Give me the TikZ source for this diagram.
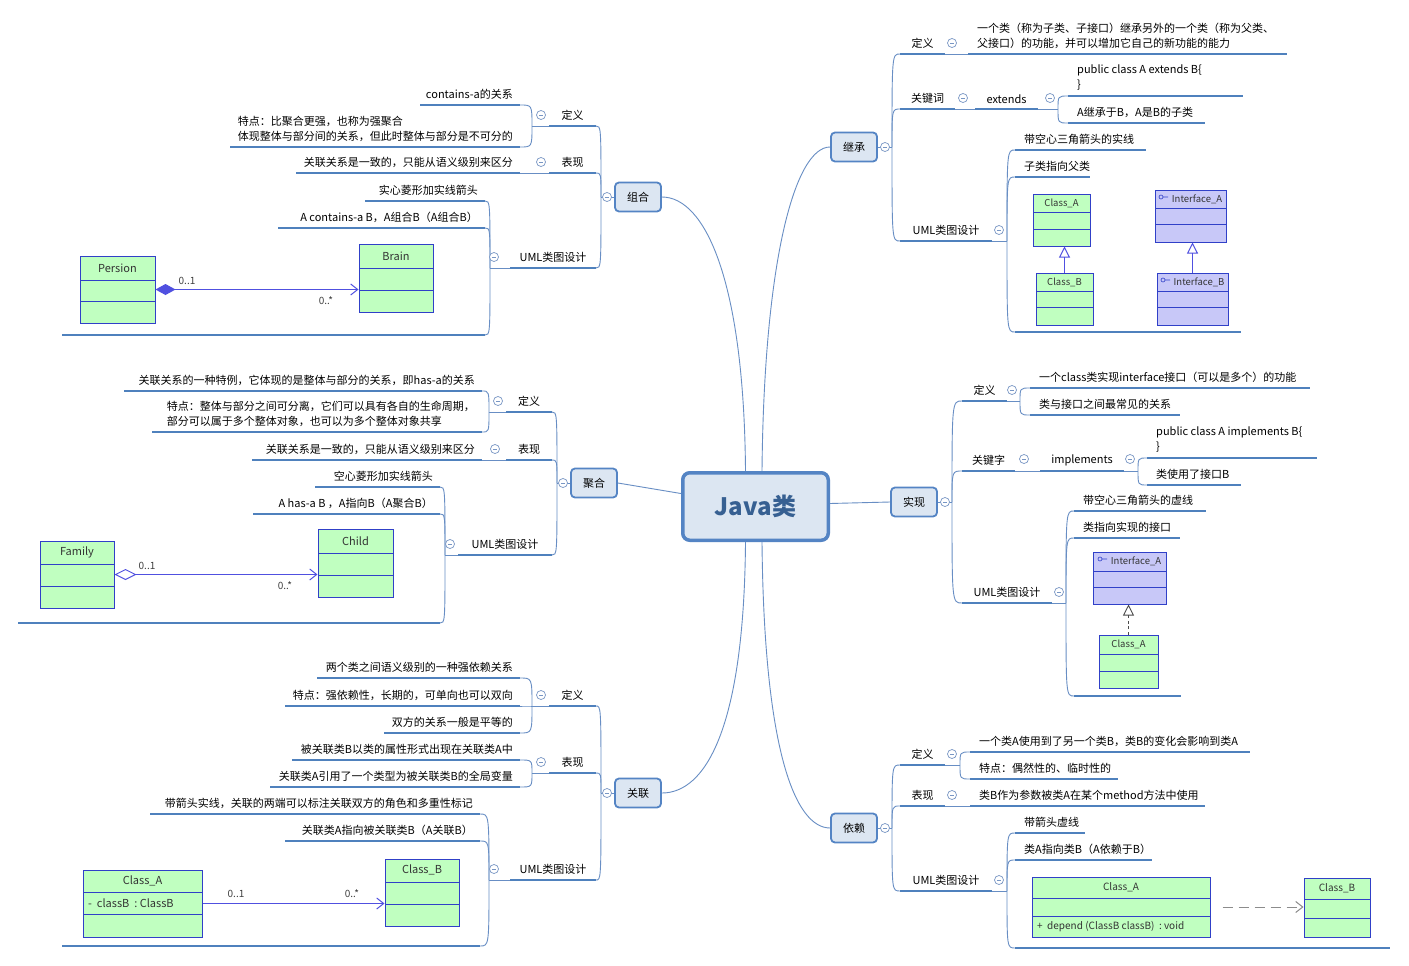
\documentclass[tikz,border=0pt]{standalone}
\usepackage{fontspec}
\setmainfont{Noto Sans CJK SC}
\usetikzlibrary{arrows.meta,fit}

\definecolor{ulcol}{RGB}{79,129,189}
\definecolor{concol}{RGB}{104,142,196}
\definecolor{boxfill}{RGB}{220,230,242}
\definecolor{boxdraw}{RGB}{84,132,196}
\definecolor{javatext}{RGB}{55,96,146}
\definecolor{foldcol}{RGB}{120,150,196}
\definecolor{umlgreen}{RGB}{192,255,192}
\definecolor{umlpurple}{RGB}{200,200,248}
\definecolor{umlline}{RGB}{48,64,200}
\definecolor{arrowcol}{RGB}{80,80,224}

% topic text above an underline: right side, left side, centred
\newcommand\topicR[5]{%
  \coordinate (#1-l) at (#2,#4);
  \coordinate (#1-r) at (#3,#4);
  \draw[uline] (#1-l) -- (#1-r);
  \node[tptext, anchor=south west] (#1) at (#2+8,#4-4) {#5};}
\newcommand\topicL[5]{%
  \coordinate (#1-l) at (#2,#4);
  \coordinate (#1-r) at (#3,#4);
  \draw[uline] (#1-l) -- (#1-r);
  \node[tptext, anchor=south east] (#1) at (#3-6,#4-4) {#5};}
\newcommand\topicC[5]{%
  \coordinate (#1-l) at (#2,#4);
  \coordinate (#1-r) at (#3,#4);
  \draw[uline] (#1-l) -- (#1-r);
  \node[tptext, anchor=south] (#1) at ({(#2+#3)/2},#4-4) {#5};}
\newcommand\imgline[4]{%
  \coordinate (#1-l) at (#2,#4);
  \coordinate (#1-r) at (#3,#4);
  \draw[uline] (#1-l) -- (#1-r);}
% curved branch from a hub to a child
\newcommand\lnk[2]{\draw[conn] (#1) .. controls (#1 |- #2) .. (#2);}
% uml class box with two compartment rules
\newcommand\umlbox[8]{%
  \node[#2, fit={(#3,#4) (#5,#6)}] (#1) {};
  \draw[umlrule] (#3,#7) -- (#5,#7) (#3,#8) -- (#5,#8);}

\tikzset{
  uline/.style={draw=ulcol, line width=2.6pt},
  conn/.style={draw=concol, line width=0.9pt},
  tptext/.style={inner sep=1pt, align=left, font=\fontsize{11}{15}\selectfont},
  javabox/.style={draw=boxdraw, fill=boxfill, line width=3.5pt, rounded corners=7pt,
    minimum width=145.5pt, minimum height=67.5pt, text=javatext,
    font=\fontsize{24}{28}\selectfont\bfseries},
  mainbox/.style={draw=boxdraw, fill=boxfill, line width=1.8pt, rounded corners=4pt,
    minimum width=46pt, minimum height=29pt, font=\fontsize{11}{13}\selectfont},
  foldmark/.style={circle, draw=foldcol, fill=white, line width=0.7pt, minimum size=9pt,
    inner sep=0pt, path picture={\draw[foldcol, line width=0.7pt]
      ([xshift=-2.2pt]path picture bounding box.center) -- ([xshift=2.2pt]path picture bounding box.center);}},
  umlg/.style={draw=umlline, fill=umlgreen, line width=1pt, inner sep=0pt},
  umlp/.style={draw=umlline, fill=umlpurple, line width=1pt, inner sep=0pt},
  umlrule/.style={draw=umlline, line width=0.9pt},
  umltxt/.style={inner sep=0pt, font=\fontsize{9.5}{11}\selectfont, text=black!80},
  umlbig/.style={umltxt, font=\fontsize{11}{12}\selectfont},
  multtxt/.style={inner sep=0pt, font=\fontsize{10}{11}\selectfont, text=black!75},
  umlarrow/.style={draw=arrowcol, line width=1pt},
}

\begin{document}
\begin{tikzpicture}[x=1pt,y=-1pt]
\path[use as bounding box, fill=white] (0,0) rectangle (1409,966);

% central topic and main branches
\node[javabox] (java) at (755.5,506.5) {Java类};
\node[mainbox] (jc) at (854,147) {继承};
\node[mainbox] (zh) at (638,197) {组合};
\node[mainbox] (jh) at (594,483) {聚合};
\node[mainbox] (sx) at (914,502) {实现};
\node[mainbox] (gl) at (638,793) {关联};
\node[mainbox] (yl) at (854,828) {依赖};

\draw[conn] ([xshift=6.5pt]java.north) .. controls (764,260) and (795,147) .. (jc.west);
\draw[conn] ([xshift=-10pt]java.north) .. controls (744,280) and (705,197) .. (zh.east);
\draw[conn] ([yshift=13pt]java.west) .. controls (650,488) .. (jh.east);
\draw[conn] ([yshift=3pt]java.east) .. controls (860,503) .. (sx.west);
\draw[conn] ([xshift=-10pt]java.south) .. controls (744,730) and (705,793) .. (gl.east);
\draw[conn] ([xshift=6.5pt]java.south) .. controls (764,750) and (795,828) .. (yl.west);

% 继承
\topicC{jcdy}{900}{945}{54}{定义}
\topicR{jcdy1}{968}{1287}{54}{一个类（称为子类、子接口）继承另外的一个类（称为父类、\\父接口）的功能，并可以增加它自己的新功能的能力}
\topicC{jcgj}{900}{955}{109}{关键词}
\topicC{jcext}{975}{1038}{109}{extends}
\topicR{jcext1}{1068}{1243}{96}{public class A extends B\{\\\}}
\topicR{jcext2}{1068}{1205}{123}{A继承于B，A是B的子类}
\topicC{jcuml}{900}{992}{241}{UML类图设计}
\topicR{jcuml1}{1015}{1146}{150}{带空心三角箭头的实线}
\topicR{jcuml2}{1015}{1090}{177}{子类指向父类}
\imgline{jcuml3}{1015}{1241}{332}

\umlbox{ca}{umlg}{1033}{194}{1090}{246}{212}{229}
\node[umltxt] (ca-t) at (1061.5,203) {Class\_A};
\umlbox{cb}{umlg}{1036}{273}{1093}{325}{291}{307}
\node[umltxt] (cb-t) at (1064.5,282) {Class\_B};
\umlbox{ia}{umlp}{1155}{190}{1226}{242}{208}{224}
\node[umltxt] (ia-t) at (1197,199) {Interface\_A};
\umlbox{ib}{umlp}{1157}{273}{1228}{325}{291}{307}
\node[umltxt] (ib-t) at (1199,282) {Interface\_B};
\draw[umlrule, line width=0.6pt] (1161,197) circle[radius=2pt] (1163,197) -- (1168,197);
\draw[umlrule, line width=0.6pt] (1163,280) circle[radius=2pt] (1165,280) -- (1170,280);
\draw[umlarrow, -{Triangle[open, length=11pt, width=11pt]}] (cb.north) -- (cb.north |- ca.south);
\draw[umlarrow, -{Triangle[open, length=11pt, width=11pt]}] (ib.north) -- (ib.north |- ia.south);

% 组合
\topicC{zhdy}{549}{596}{126}{定义}
\topicL{zhdy1}{420}{520}{105}{contains-a的关系}
\topicL{zhdy2}{230}{520}{147}{特点：比聚合更强，也称为强聚合\\体现整体与部分间的关系，但此时整体与部分是不可分的}
\topicC{zhbx}{549}{596}{173}{表现}
\topicL{zhbx1}{296}{520}{173}{关联关系是一致的，只能从语义级别来区分}
\topicC{zhuml}{510}{596}{268}{UML类图设计}
\topicL{zhuml1}{365}{485}{201}{实心菱形加实线箭头}
\topicL{zhuml2}{278}{485}{228}{A contains-a B，A组合B（A组合B）}
\imgline{zhuml3}{62}{485}{335}

\umlbox{persion}{umlg}{80}{256}{155}{323}{280}{301}
\node[umlbig] (persion-t) at (117.5,268) {Persion};
\umlbox{brain}{umlg}{359}{244}{433}{312}{268}{290}
\node[umlbig] (brain-t) at (396,256) {Brain};
\draw[umlarrow, {Diamond[length=20pt, width=11pt]}-{Straight Barb[length=7pt, width=11pt]}]
  (persion.east) -- (persion.east -| brain.west);
\node[multtxt] (persion-m) at (187,281) {0..1};
\node[multtxt] (brain-m) at (326,301) {0..*};

% 聚合
\topicC{jhdy}{506}{552}{412}{定义}
\topicL{jhdy1}{124}{482}{391}{关联关系的一种特例，它体现的是整体与部分的关系，即has-a的关系}
\topicL{jhdy2}{152}{482}{432}{特点：整体与部分之间可分离，它们可以具有各自的生命周期，\\部分可以属于多个整体对象，也可以为多个整体对象共享}
\topicC{jhbx}{506}{552}{460}{表现}
\topicL{jhbx1}{252}{482}{460}{关联关系是一致的，只能从语义级别来区分}
\topicC{jhuml}{458}{552}{555}{UML类图设计}
\topicL{jhuml1}{315}{440}{487}{空心菱形加实线箭头}
\topicL{jhuml2}{253}{440}{514}{A has-a B ，A指向B（A聚合B）}
\imgline{jhuml3}{18}{440}{623}

\umlbox{family}{umlg}{40}{541}{114}{608}{564}{586}
\node[umlbig] (family-t) at (77,552) {Family};
\umlbox{child}{umlg}{318}{529}{393}{597}{553}{575}
\node[umlbig] (child-t) at (355.5,541) {Child};
\draw[umlarrow, {Diamond[open, length=22pt, width=11pt]}-{Straight Barb[length=7pt, width=11pt]}]
  (family.east) -- (family.east -| child.west);
\node[multtxt] (family-m) at (147,566) {0..1};
\node[multtxt] (child-m) at (285,586) {0..*};

% 实现
\topicC{sxdy}{962}{1007}{401}{定义}
\topicR{sxdy1}{1030}{1310}{388}{一个class类实现interface接口（可以是多个）的功能}
\topicR{sxdy2}{1030}{1180}{415}{类与接口之间最常见的关系}
\topicC{sxgj}{962}{1015}{471}{关键字}
\topicC{sximp}{1040}{1124}{471}{implements}
\topicR{sximp1}{1147}{1317}{458}{public class A implements B\{\\\}}
\topicR{sximp2}{1147}{1241}{485}{类使用了接口B}
\topicC{sxuml}{962}{1052}{603}{UML类图设计}
\topicR{sxuml1}{1074}{1206}{511}{带空心三角箭头的虚线}
\topicR{sxuml2}{1074}{1180}{538}{类指向实现的接口}
\imgline{sxuml3}{1074}{1181}{696}

\umlbox{sia}{umlp}{1093}{552}{1166}{604}{571}{587}
\node[umltxt] (sia-t) at (1136,561) {Interface\_A};
\draw[umlrule, line width=0.6pt] (1100,559) circle[radius=2pt] (1102,559) -- (1107,559);
\umlbox{sca}{umlg}{1099}{635}{1158}{688}{654}{671}
\node[umltxt] (sca-t) at (1128.5,644) {Class\_A};
\draw[draw=black!70, line width=0.9pt, dash pattern=on 3pt off 2.5pt,
  -{Triangle[open, length=11pt, width=11pt]}] (sca.north) -- (sca.north |- sia.south);

% 关联
\topicC{gldy}{549}{596}{706}{定义}
\topicL{gldy1}{317}{520}{678}{两个类之间语义级别的一种强依赖关系}
\topicL{gldy2}{285}{520}{706}{特点：强依赖性，长期的，可单向也可以双向}
\topicL{gldy3}{384}{520}{733}{双方的关系一般是平等的}
\topicC{glbx}{549}{596}{773}{表现}
\topicL{glbx1}{292}{520}{760}{被关联类B以类的属性形式出现在关联类A中}
\topicL{glbx2}{270}{520}{787}{关联类A引用了一个类型为被关联类B的全局变量}
\topicC{gluml}{510}{596}{880}{UML类图设计}
\topicL{gluml1}{150}{480}{814}{带箭头实线，关联的两端可以标注关联双方的角色和多重性标记}
\topicL{gluml2}{285}{480}{841}{关联类A指向被关联类B（A关联B）}
\imgline{gluml3}{62}{480}{946}

\umlbox{gca}{umlg}{83}{870}{202}{937}{892}{914}
\node[umlbig] (gca-t) at (142.5,881) {Class\_A};
\node[umlbig, anchor=west] (gca-a) at (88,903) {-\ \ classB\ \ : ClassB};
\umlbox{gcb}{umlg}{385}{859}{459}{926}{882}{904}
\node[umlbig] (gcb-t) at (422,870) {Class\_B};
\draw[umlarrow, -{Straight Barb[length=7pt, width=11pt]}] (gca.east) -- (gca.east -| gcb.west);
\node[multtxt] (gca-m) at (236,894) {0..1};
\node[multtxt] (gcb-m) at (352,894) {0..*};

% 依赖
\topicC{yldy}{900}{945}{765}{定义}
\topicR{yldy1}{970}{1250}{752}{一个类A使用到了另一个类B，类B的变化会影响到类A}
\topicR{yldy2}{970}{1118}{779}{特点：偶然性的、临时性的}
\topicC{ylbx}{900}{945}{806}{表现}
\topicR{ylbx1}{970}{1205}{806}{类B作为参数被类A在某个method方法中使用}
\topicC{yluml}{900}{992}{891}{UML类图设计}
\topicR{yluml1}{1015}{1085}{833}{带箭头虚线}
\topicR{yluml2}{1015}{1152}{860}{类A指向类B（A依赖于B）}
\imgline{yluml3}{1015}{1390}{948}

\umlbox{yca}{umlg}{1032}{877}{1210}{937}{898}{916}
\node[umltxt, font=\fontsize{10}{11}\selectfont] (yca-t) at (1121,887.5) {Class\_A};
\node[umltxt, font=\fontsize{10}{11}\selectfont, anchor=west] (yca-o) at (1037,926.5) {+\ \ depend (ClassB classB)\ \ : void};
\umlbox{ycb}{umlg}{1304}{878}{1370}{937}{899}{918}
\node[umltxt, font=\fontsize{10}{11}\selectfont] (ycb-t) at (1337,888.5) {Class\_B};
\draw[draw=black!45, line width=1pt, dash pattern=on 10pt off 6pt,
  -{Straight Barb[length=7pt, width=11pt]}] ([xshift=12pt]yca.east) -- (yca.east -| ycb.west);

% hubs of the branches
\foreach \nm/\hx/\hy in {jc/892/147, zh/601/197, jh/557/483, sx/952/502, gl/601/793, yl/892/828,
  jcext/1058/109, jcuml/1007/241, zhdy/532/126, zhuml/490/268, jhdy/489/412, jhuml/445/555,
  sxdy/1020/401, sximp/1138/471, sxuml/1066/603, gldy/532/706, glbx/532/773, gluml/489/880,
  yldy/960/765, yluml/1007/891}
  \coordinate (\nm-h) at (\hx,\hy);

% connectors
\draw[conn] (jc.east) -- (jc-h);
\lnk{jc-h}{jcdy-l}\lnk{jc-h}{jcgj-l}\lnk{jc-h}{jcuml-l}
\draw[conn] (jcdy-r) -- (jcdy1-l);
\draw[conn] (jcgj-r) -- (jcext-l);
\draw[conn] (jcext-r) -- (jcext-h);
\lnk{jcext-h}{jcext1-l}\lnk{jcext-h}{jcext2-l}
\draw[conn] (jcuml-r) -- (jcuml-h);
\lnk{jcuml-h}{jcuml1-l}\lnk{jcuml-h}{jcuml2-l}\lnk{jcuml-h}{jcuml3-l}

\draw[conn] (zh.west) -- (zh-h);
\lnk{zh-h}{zhdy-r}\lnk{zh-h}{zhbx-r}\lnk{zh-h}{zhuml-r}
\draw[conn] (zhdy-l) -- (zhdy-h);
\lnk{zhdy-h}{zhdy1-r}\lnk{zhdy-h}{zhdy2-r}
\draw[conn] (zhbx-l) -- (zhbx1-r);
\draw[conn] (zhuml-l) -- (zhuml-h);
\lnk{zhuml-h}{zhuml1-r}\lnk{zhuml-h}{zhuml2-r}\lnk{zhuml-h}{zhuml3-r}

\draw[conn] (jh.west) -- (jh-h);
\lnk{jh-h}{jhdy-r}\lnk{jh-h}{jhbx-r}\lnk{jh-h}{jhuml-r}
\draw[conn] (jhdy-l) -- (jhdy-h);
\lnk{jhdy-h}{jhdy1-r}\lnk{jhdy-h}{jhdy2-r}
\draw[conn] (jhbx-l) -- (jhbx1-r);
\draw[conn] (jhuml-l) -- (jhuml-h);
\lnk{jhuml-h}{jhuml1-r}\lnk{jhuml-h}{jhuml2-r}\lnk{jhuml-h}{jhuml3-r}

\draw[conn] (sx.east) -- (sx-h);
\lnk{sx-h}{sxdy-l}\lnk{sx-h}{sxgj-l}\lnk{sx-h}{sxuml-l}
\draw[conn] (sxdy-r) -- (sxdy-h);
\lnk{sxdy-h}{sxdy1-l}\lnk{sxdy-h}{sxdy2-l}
\draw[conn] (sxgj-r) -- (sximp-l);
\draw[conn] (sximp-r) -- (sximp-h);
\lnk{sximp-h}{sximp1-l}\lnk{sximp-h}{sximp2-l}
\draw[conn] (sxuml-r) -- (sxuml-h);
\lnk{sxuml-h}{sxuml1-l}\lnk{sxuml-h}{sxuml2-l}\lnk{sxuml-h}{sxuml3-l}

\draw[conn] (gl.west) -- (gl-h);
\lnk{gl-h}{gldy-r}\lnk{gl-h}{glbx-r}\lnk{gl-h}{gluml-r}
\draw[conn] (gldy-l) -- (gldy-h);
\lnk{gldy-h}{gldy1-r}\lnk{gldy-h}{gldy2-r}\lnk{gldy-h}{gldy3-r}
\draw[conn] (glbx-l) -- (glbx-h);
\lnk{glbx-h}{glbx1-r}\lnk{glbx-h}{glbx2-r}
\draw[conn] (gluml-l) -- (gluml-h);
\lnk{gluml-h}{gluml1-r}\lnk{gluml-h}{gluml2-r}\lnk{gluml-h}{gluml3-r}

\draw[conn] (yl.east) -- (yl-h);
\lnk{yl-h}{yldy-l}\lnk{yl-h}{ylbx-l}\lnk{yl-h}{yluml-l}
\draw[conn] (yldy-r) -- (yldy-h);
\lnk{yldy-h}{yldy1-l}\lnk{yldy-h}{yldy2-l}
\draw[conn] (ylbx-r) -- (ylbx1-l);
\draw[conn] (yluml-r) -- (yluml-h);
\lnk{yluml-h}{yluml1-l}\lnk{yluml-h}{yluml2-l}\lnk{yluml-h}{yluml3-l}

% fold marks
\foreach \nm/\fx/\fy in {jc/885/147, zh/607/197, jh/563/483, sx/945/502, gl/607/793, yl/885/828,
  jcdy/952/43, jcgj/963/98, jcext/1050/98, jcuml/999/230,
  zhdy/541/115, zhbx/541/162, zhuml/494/257,
  jhdy/498/401, jhbx/495/449, jhuml/450/544,
  sxdy/1012/390, sxgj/1024/459, sximp/1130/459, sxuml/1059/592,
  gldy/541/695, glbx/541/762, gluml/494/869,
  yldy/952/754, ylbx/952/795, yluml/999/880}
  \node[foldmark] (\nm-f) at (\fx,\fy) {};
\end{tikzpicture}
\end{document}
